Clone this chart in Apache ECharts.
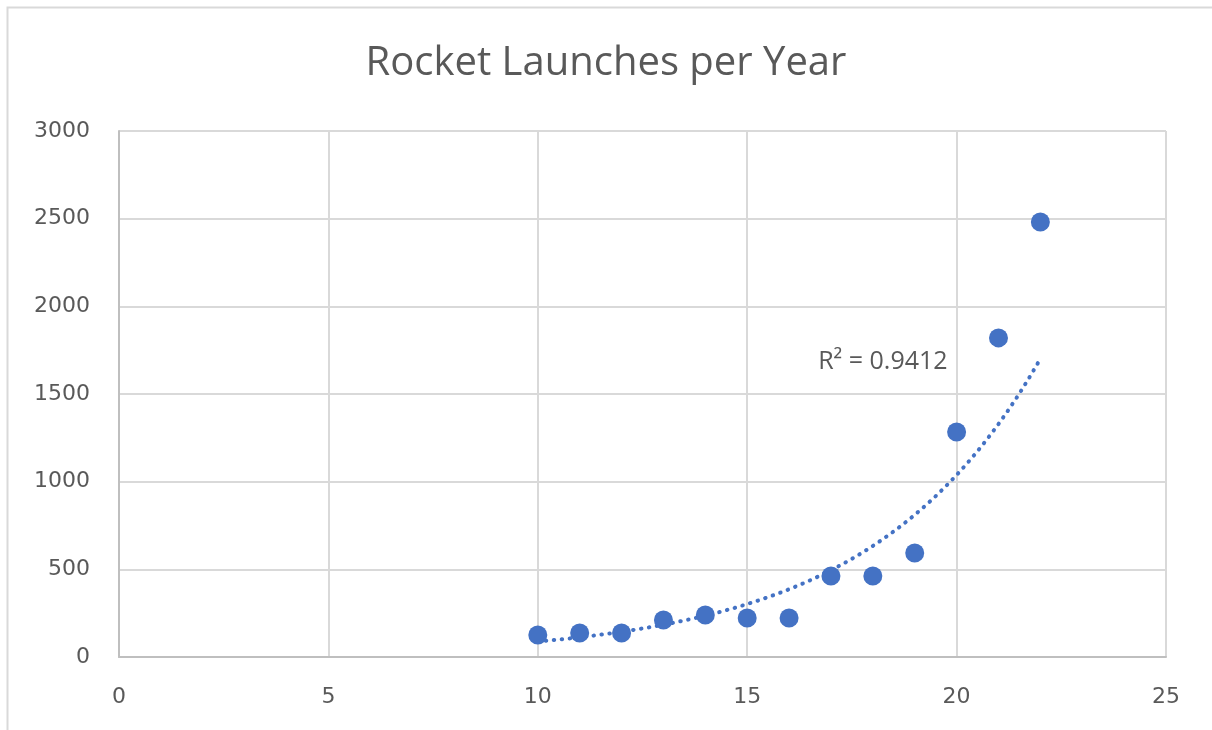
<!DOCTYPE html>
<html>
<head>
<meta charset="utf-8">
<script src="https://cdn.jsdelivr.net/npm/echarts@6/dist/echarts.min.js"></script>
<style>
  html, body { margin: 0; padding: 0; background: #fff; }
  #chart { width: 1212px; height: 730px; }
</style>
</head>
<body>
<div id="chart"></div>
<script>
// values
var years = [10, 11, 12, 13, 14, 15, 16, 17, 18, 19, 20, 21, 22];
var launches = [125, 137, 137, 211, 240, 222, 222, 462, 462, 593, 1283, 1820, 2481];
var xTicks = [0, 5, 10, 15, 20, 25];
var yTicks = [0, 500, 1000, 1500, 2000, 2500, 3000];
var r2Text = 'R² = 0.9412';
var r2At = [18.24, 1683];

// exponential trendline (least squares on ln y), like excel does it
function expFit(xs, ys) {
	var n = xs.length, mx = 0, my = 0, sxy = 0, sxx = 0;
	for (var i = 0; i < n; i++) { mx += xs[i]; my += Math.log(ys[i]); }
	mx /= n; my /= n;
	for (var i = 0; i < n; i++) {
		sxy += (xs[i] - mx) * (Math.log(ys[i]) - my);
		sxx += (xs[i] - mx) * (xs[i] - mx);
	}
	var b = sxy / sxx, a = Math.exp(my - b * mx);
	return function(x) { return a * Math.exp(b * x); };
}
var fit = expFit(years, launches);
var trend = [];
var x0 = years[0], x1 = years[years.length - 1];
for (var k = 0; k <= 120; k++) {
	var x = x0 + (x1 - x0) * k / 120;
	trend.push([x, fit(x)]);
}

var pts = years.map(function(y, i) { return [y, launches[i]]; });
var txt = '#595959', blue = '#4472C4';
var font = '"Open Sans", "Noto Sans", sans-serif';
var tickFont = '"DejaVu Sans", sans-serif';

var chart = echarts.init(document.getElementById('chart'));
chart.setOption({
	animation: false,
	backgroundColor: '#fff',
	title: {
		text: 'Rocket Launches per Year',
		left: 'center',
		top: 39,
		textStyle: { color: txt, fontSize: 40, fontWeight: 'normal', fontFamily: font }
	},
	graphic: [{
		type: 'rect',
		shape: { x: 7.5, y: 7.5, width: 1210, height: 730 },
		style: { fill: null, stroke: '#D9D9D9', lineWidth: 2 },
		silent: true
	}],
	grid: { left: 119, right: 46, top: 131, bottom: 73 },
	xAxis: {
		type: 'value',
		min: xTicks[0], max: xTicks[xTicks.length - 1], interval: 5,
		axisLine: { lineStyle: { color: '#BFBFBF', width: 2 } },
		axisTick: { show: false },
		axisLabel: { color: txt, fontSize: 22, fontFamily: tickFont, margin: 29 },
		splitLine: { show: true, lineStyle: { color: '#D9D9D9', width: 2 } }
	},
	yAxis: {
		type: 'value',
		min: yTicks[0], max: yTicks[yTicks.length - 1], interval: 500,
		axisLine: { show: true, lineStyle: { color: '#BFBFBF', width: 2 } },
		axisTick: { show: false },
		axisLabel: {
			color: txt, fontSize: 22, fontFamily: tickFont, margin: 29,
			formatter: function(v) { return String(v); }
		},
		splitLine: { show: true, lineStyle: { color: '#D9D9D9', width: 2 } }
	},
	series: [{
		type: 'line',
		data: trend,
		showSymbol: false,
		silent: true,
		z: 2,
		lineStyle: { color: blue, width: 4, type: [0.5, 7.5], cap: 'round' }
	}, {
		type: 'scatter',
		data: pts,
		symbolSize: 19,
		z: 3,
		itemStyle: { color: blue, opacity: 1 }
	}]
});

// R² label placed at data coordinates
var p = chart.convertToPixel({ gridIndex: 0 }, r2At);
chart.setOption({
	graphic: [{}, {
		type: 'text',
		x: p[0], y: p[1],
		silent: true,
		style: {
			text: r2Text, fill: txt, font: '25px ' + font,
			align: 'center', verticalAlign: 'middle'
		}
	}]
});
</script>
</body>
</html>
